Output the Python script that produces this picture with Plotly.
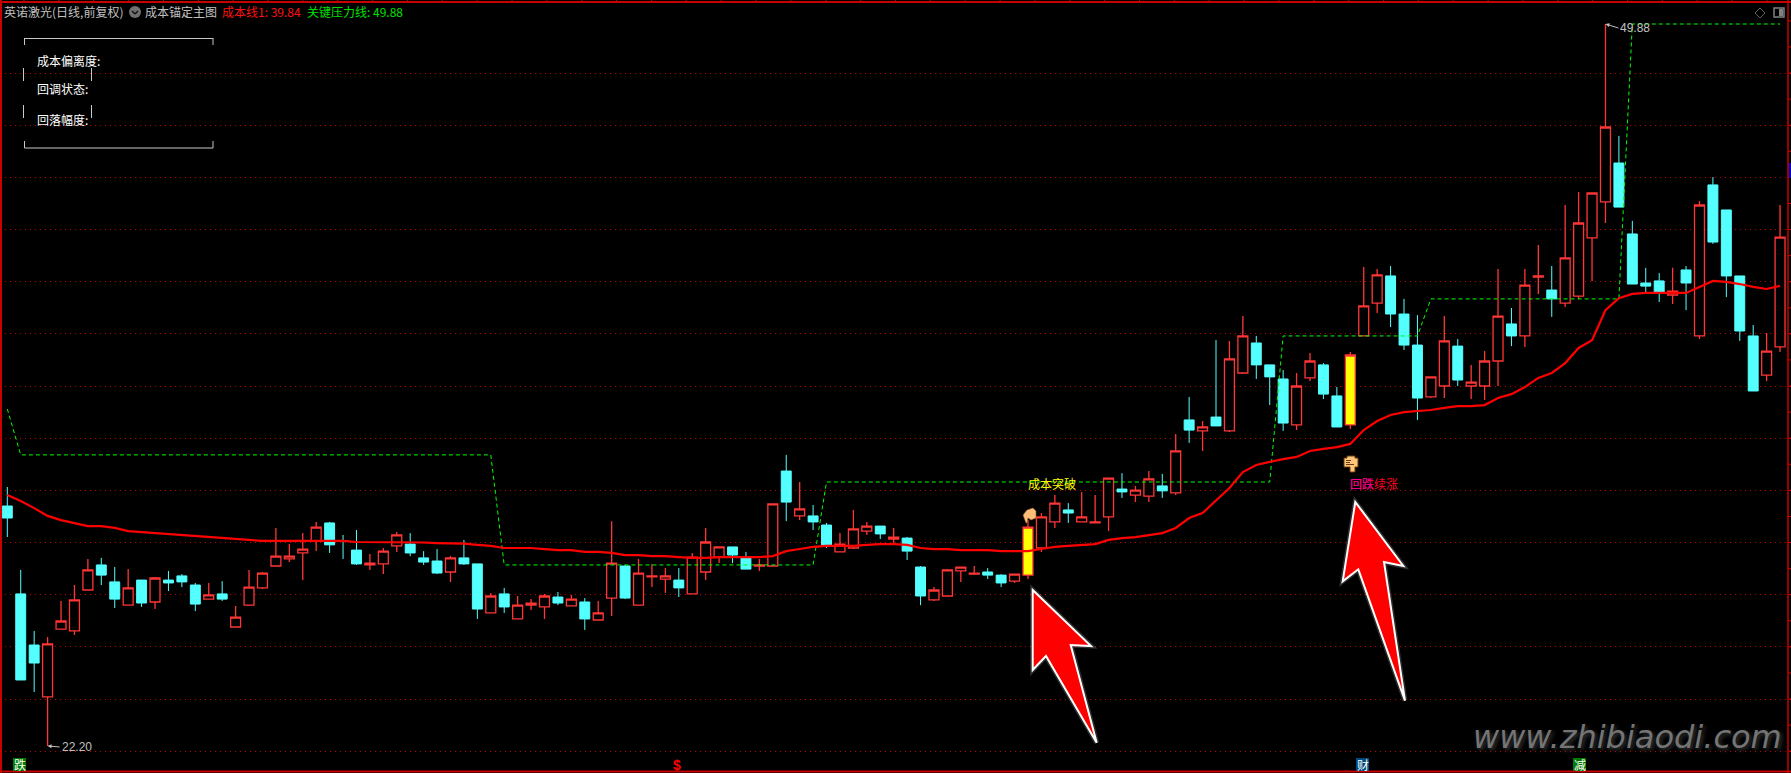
import plotly.graph_objects as go

W, H = 1791, 773
SIGNAL_DAYS = [76, 100]

highs = [
 32.13,28.95,26.61,26.38,27.76,28.37,29.37,29.41,29.06,28.98,
 28.56,28.68,28.91,28.79,28.45,28.45,28.52,27.57,28.95,28.87,
 30.56,29.94,30.36,30.79,30.79,30.29,30.48,29.56,29.79,30.40,
 30.36,29.67,29.75,29.48,30.10,29.18,28.06,28.26,27.95,27.83,
 28.03,28.10,27.99,27.87,27.76,30.82,29.14,29.37,29.18,29.02,
 29.02,29.60,30.56,29.83,29.83,29.64,29.37,31.48,33.36,32.32,
 31.44,30.75,30.36,31.25,30.79,30.63,30.56,30.21,29.10,28.29,
 28.98,29.06,29.10,29.02,28.79,28.79,30.86,31.13,31.82,31.51,
 31.94,31.82,32.47,32.66,32.17,32.74,32.63,34.16,35.58,34.66,
 37.76,37.73,38.68,37.92,36.81,36.61,36.50,37.27,36.88,35.96,
 37.30,40.56,40.49,40.60,39.34,38.72,36.35,38.68,37.80,36.81,
 37.34,40.49,38.99,40.49,41.41,40.60,42.94,43.44,43.40,49.88,
 45.59,42.33,40.53,40.33,40.53,40.60,43.09,44.01,42.75,40.22,
 38.34,38.03,42.94]
opens = [
 31.40,28.03,26.07,24.08,26.68,26.61,28.18,29.14,28.49,27.60,
 28.56,27.72,28.56,28.72,28.37,27.83,28.03,26.76,27.60,28.26,
 29.10,29.37,29.60,30.06,30.75,30.06,29.71,29.14,29.18,29.87,
 29.94,29.41,29.29,28.87,29.41,29.18,27.30,28.03,27.07,27.60,
 27.53,27.91,27.57,27.72,27.03,27.87,29.10,27.60,28.68,28.60,
 28.56,28.03,28.87,29.44,29.83,29.41,29.10,29.10,32.74,31.02,
 31.02,30.67,29.64,29.79,30.44,30.63,30.13,30.17,29.06,27.80,
 27.95,28.91,28.79,28.87,28.75,28.52,28.75,29.79,30.79,31.25,
 30.79,30.75,30.98,32.05,31.82,31.78,32.17,31.90,34.70,34.28,
 34.81,34.28,36.50,37.65,36.81,36.27,34.51,36.31,36.81,35.62,
 34.51,37.92,39.18,40.22,38.76,37.57,35.58,36.00,37.53,36.00,
 36.00,36.96,38.38,37.92,40.18,39.68,39.18,39.45,41.68,43.06,
 44.55,41.83,39.95,40.03,39.49,40.45,37.92,43.71,42.75,40.22,
 37.92,36.42,37.50]
closes = [
 30.94,24.73,25.38,26.11,26.99,27.80,28.95,28.75,27.83,28.26,
 27.68,28.64,28.45,28.49,27.64,27.99,27.83,27.14,28.29,28.83,
 29.48,29.48,29.75,30.59,29.91,30.04,29.18,29.21,29.67,30.29,
 29.60,29.25,28.83,29.41,29.18,27.45,27.95,27.53,27.60,27.68,
 27.95,27.68,27.83,27.07,27.30,29.21,27.87,28.83,28.72,28.72,
 28.26,29.44,30.02,29.83,29.52,28.98,29.14,31.48,31.55,31.29,
 30.79,29.91,29.94,30.52,30.63,30.33,30.21,29.67,27.95,28.18,
 28.95,29.06,28.83,28.75,28.45,28.79,30.59,30.98,31.51,31.13,
 30.98,30.79,32.47,31.94,32.01,32.44,31.98,33.51,34.31,34.43,
 34.47,37.04,37.92,36.81,36.35,34.58,36.00,36.96,35.69,34.43,
 37.19,39.07,40.26,38.76,37.57,35.54,36.35,37.73,36.23,36.15,
 36.96,38.68,37.92,39.87,40.22,39.34,40.91,42.25,43.40,45.93,
 42.86,39.91,39.83,39.57,39.64,39.95,42.94,41.52,40.22,38.11,
 35.81,37.34,41.71]
lows = [
 30.21,24.73,24.27,22.20,26.68,26.45,28.18,28.37,27.49,27.60,
 27.53,27.45,28.14,28.29,27.37,27.83,27.76,26.76,27.60,28.22,
 29.10,29.25,28.56,29.67,29.60,29.37,29.14,28.95,28.79,29.64,
 29.48,29.14,28.79,28.49,29.14,27.07,27.30,27.30,27.07,27.41,
 27.07,27.60,27.57,26.65,27.03,27.18,27.83,27.60,28.29,28.06,
 27.91,28.03,28.56,29.21,29.21,28.98,28.91,29.10,30.82,30.86,
 30.48,29.79,29.64,29.75,30.29,30.13,29.98,29.33,27.60,27.76,
 27.95,28.49,28.75,28.60,28.29,28.45,28.60,29.64,30.56,30.75,
 30.79,30.75,30.44,31.71,31.55,31.55,31.71,31.82,33.82,33.51,
 34.47,34.24,36.46,36.27,35.27,34.28,34.31,36.19,35.50,34.43,
 34.35,37.92,38.80,38.26,37.38,34.70,35.54,35.54,36.00,35.50,
 35.46,36.00,37.53,37.50,39.53,38.65,39.03,39.34,40.03,42.25,
 42.86,39.91,39.57,39.22,39.14,38.91,37.80,41.45,39.41,37.73,
 35.81,36.19,37.30]
cost_line = [
 31.82,31.59,31.32,31.02,30.86,30.75,30.63,30.63,30.56,30.44,
 30.40,30.36,30.33,30.29,30.25,30.21,30.17,30.13,30.10,30.06,
 30.06,30.06,30.06,30.06,30.06,30.06,30.02,30.02,30.02,30.02,
 30.02,30.00,29.98,29.98,29.96,29.91,29.87,29.79,29.79,29.79,
 29.75,29.71,29.71,29.64,29.64,29.60,29.52,29.52,29.48,29.48,
 29.44,29.41,29.41,29.44,29.44,29.44,29.44,29.48,29.67,29.75,
 29.83,29.87,29.87,29.87,29.91,29.94,29.94,29.91,29.79,29.75,
 29.75,29.71,29.71,29.71,29.67,29.67,29.67,29.75,29.83,29.87,
 29.91,29.94,30.10,30.17,30.21,30.29,30.36,30.56,30.94,31.13,
 31.63,32.09,32.70,32.97,33.09,33.20,33.28,33.51,33.59,33.66,
 33.78,34.31,34.66,34.89,35.00,35.04,35.08,35.16,35.23,35.23,
 35.27,35.54,35.69,35.96,36.31,36.50,36.88,37.46,37.76,38.91,
 39.37,39.53,39.57,39.57,39.57,39.57,39.80,40.03,39.99,39.91,
 39.80,39.72,39.84]
pressure_levels = [35.12] + [33.36]*36 + [29.14]*24 + [32.32]*34 + [37.92]*11 + [39.34]*15 + [49.88]*12
grid_prices = list(range(22, 50, 2))
tick_prices = list(range(22, 51))
days = list(range(len(highs)))

X0, STEP = 7.3, 13.43
Y_TOP, Y_SCALE = 50.80, 0.03834
xrange_ = [-X0 / STEP, (W - X0) / STEP]
yrange_ = [Y_TOP - H * Y_SCALE, Y_TOP]
px = lambda x: x / W
py = lambda y: 1 - y / H

RED, CYAN = "#ff3636", "#54ffff"
plain = [d for d in days if d not in SIGNAL_DAYS]
pick = lambda arr, idx: [arr[d] for d in idx]

fig = go.Figure()
fig.add_trace(go.Candlestick(
    x=plain, open=pick(opens, plain), high=pick(highs, plain), low=pick(lows, plain), close=pick(closes, plain),
    whiskerwidth=0, line_width=1.3,
    increasing=dict(line=dict(color=RED, width=1.3), fillcolor="#000000"),
    decreasing=dict(line=dict(color=CYAN, width=1.0), fillcolor=CYAN),
    showlegend=False, hoverinfo="skip"))
fig.add_trace(go.Candlestick(
    x=SIGNAL_DAYS, open=pick(opens, SIGNAL_DAYS), high=pick(highs, SIGNAL_DAYS), low=pick(lows, SIGNAL_DAYS), close=pick(closes, SIGNAL_DAYS),
    whiskerwidth=0,
    increasing=dict(line=dict(color=RED, width=1.3), fillcolor="#ffff00"),
    decreasing=dict(line=dict(color=RED, width=1.3), fillcolor="#ffff00"),
    showlegend=False, hoverinfo="skip"))
fig.add_trace(go.Scatter(x=days, y=pressure_levels, mode="lines", showlegend=False, hoverinfo="skip",
                         line=dict(color="#00ff00", width=1, dash="4px,3px")))
fig.add_trace(go.Scatter(x=days, y=cost_line, mode="lines", showlegend=False, hoverinfo="skip",
                         line=dict(color="#ff0000", width=2.2)))

shapes = []
def paper_line(x0, y0, x1, y1, color, width=1):
    shapes.append(dict(type="line", xref="paper", yref="paper", x0=px(x0), y0=py(y0), x1=px(x1), y1=py(y1),
                       line=dict(color=color, width=width), layer="above"))
def paper_poly(points, fill, line_color=None, width=0, opacity=1):
    path = "M" + " L".join(f"{px(x):.5f},{py(y):.5f}" for x, y in points) + " Z"
    shapes.append(dict(type="path", xref="paper", yref="paper", path=path, fillcolor=fill, opacity=opacity,
                       line=dict(color=line_color or fill, width=width), layer="above"))

# frame
BORDER = "#c80000"
paper_line(0, 2, W, 2, BORDER, 2)
paper_line(1, 0, 1, H, BORDER, 2)
paper_line(0, 771.5, W, 771.5, BORDER, 2)
paper_line(1788, 0, 1788, H, BORDER, 1.5)
tx = 24.0
while tx < 1788:
    paper_line(tx, 0, tx, 2, BORDER, 1)
    tx += 34.86
for p in tick_prices:
    shapes.append(dict(type="line", xref="paper", yref="y", x0=px(1788), x1=px(W), y0=p, y1=p,
                       line=dict(color=BORDER, width=1), layer="above"))
paper_poly([(1789, 163), (1791, 163), (1791, 178), (1789, 178)], "#0000c8")

# info box
BOX = "#c8c8c8"
paper_line(24.5, 38.5, 213, 38.5, BOX)
paper_line(24.5, 38, 24.5, 45, BOX)
paper_line(213, 38, 213, 45, BOX)
paper_line(24.5, 148, 213, 148, BOX)
paper_line(24.5, 141, 24.5, 148, BOX)
paper_line(213, 141, 213, 148, BOX)
for y0, y1 in ((68, 81), (105, 118)):
    paper_line(23.5, y0, 23.5, y1, BOX)
    paper_line(91.5, y0, 91.5, y1, BOX)

# dropdown icon
shapes.append(dict(type="circle", xref="paper", yref="paper", x0=px(129), x1=px(141), y0=py(18), y1=py(6),
                   fillcolor="#707070", line=dict(width=0), layer="above"))
paper_line(132, 11, 135, 14, "#101010", 1.4)
paper_line(135, 14, 138, 11, "#101010", 1.4)

# top-right icons
paper_poly([(1760, 8), (1765, 13), (1760, 18), (1755, 13)], "rgba(0,0,0,0)", "#606060", 1)
paper_poly([(1774, 8), (1784, 8), (1784, 17), (1774, 17)], "rgba(0,0,0,0)", "#808080", 1.5)
paper_poly([(1779, 9), (1783, 9), (1783, 16), (1779, 16)], "#808080")

# signal arrows
arrow_a = [(1032.7, 590), (1091, 646), (1070.7, 645), (1096.7, 742.7), (1046, 656), (1032.7, 670)]
arrow_b = [(1355.3, 502), (1403.3, 566), (1384, 562), (1405, 700.7), (1358.3, 569.3), (1342.7, 581.3)]
for pts in (arrow_a, arrow_b):
    paper_poly(pts, "#ffffff", "#ffffff", 5, 0.18)
    paper_poly(pts, "#ff0000", "#ffffff", 2)

# hand icon
paper_poly([(1023, 515), (1027, 510), (1033, 508), (1036, 511), (1036, 518), (1031, 520), (1028, 518), (1027, 523), (1026, 523)],
           "#ffbe78", "#8a5a2a", 0.6)
# note icon
paper_poly([(1347, 456), (1355, 456), (1355, 458), (1358, 458), (1358, 467), (1355, 467), (1355, 472), (1350, 472), (1350, 467), (1344, 467), (1344, 458), (1347, 458)],
           "#ffc878", "#6a3a10", 1)
for yy, xe in ((460.5, 1351), (462.5, 1350), (464.5, 1354)):
    paper_line(1346, yy, xe, yy, "#6a3a10", 1)

# bottom tags
for x0, x1, c in ((13, 26, "#007a00"), (1356, 1369, "#004a80"), (1573, 1586, "#007a00")):
    paper_poly([(x0, 758), (x1, 758), (x1, 771), (x0, 771)], c)

fig.update_layout(
    width=W, height=H, autosize=False, margin=dict(l=0, r=0, t=0, b=0),
    paper_bgcolor="#000000", plot_bgcolor="#000000", boxgap=0.26, boxgroupgap=0, showlegend=False,
    xaxis=dict(range=xrange_, visible=False, rangeslider=dict(visible=False), fixedrange=True),
    yaxis=dict(range=yrange_, tickmode="array", tickvals=grid_prices, showticklabels=False, ticks="",
               showgrid=True, gridcolor="#c00000", griddash="1px,4px", gridwidth=1, zeroline=False, showline=False, fixedrange=True),
    shapes=shapes,
)

CJK = "Noto Sans CJK SC"
def label(x, y, text, color, size=12, family=CJK, anchor="left", **font_kw):
    fig.add_annotation(xref="paper", yref="paper", x=px(x), y=py(y), text=text, showarrow=False,
                       xanchor=anchor, yanchor="middle", borderpad=0,
                       font=dict(family=family, size=size, color=color, **font_kw))

label(3, 12, "英诺激光(日线,前复权)", "#c0c0c0")
label(144, 12, "成本锚定主图", "#c0c0c0")
label(221, 12, "成本线1: 39.84", "#ff1010")
label(306, 12, "关键压力线: 49.88", "#00e000")
label(36, 60, "成本偏离度:", "#ffffff")
label(36, 89, "回调状态:", "#ffffff")
label(36, 119, "回落幅度:", "#ffffff")
label(1027, 483, "成本突破", "#ffff00")
label(1349, 483, "回跌续涨", "#ff0020")
label(1349, 483, "回踩", "rgba(255,0,255,0.55)")
label(19.5, 764.5, "跌", "#ffffff", 12, anchor="center")
label(677, 765, "$", "#ff0000", 14, "Liberation Sans", anchor="center", weight="bold")
label(1362.5, 764.5, "财", "#ffffff", 12, anchor="center")
label(1579.5, 764.5, "减", "#ffffff", 12, anchor="center")
label(1472, 737, "www.zhibiaodi.com", "#747474", 32, "DejaVu Sans", style="italic", shadow="2px 2px 4px #3a3a3a")

for day, price, ax, ay in ((3, 22.20, 12, 1), (119, 49.88, 13, 4)):
    fig.add_annotation(x=day, y=price, ax=ax, ay=ay, axref="pixel", ayref="pixel", text=f"{price:.2f}",
                       xanchor="left", yanchor="middle", showarrow=True, arrowhead=2, arrowsize=0.8, arrowwidth=1,
                       arrowcolor="#c0c0c0", standoff=0, font=dict(family="Liberation Sans", size=12, color="#c0c0c0"))

fig.write_html("out.html", config=dict(displayModeBar=False),
               post_script="document.body.style.margin='0';document.body.style.background='#000';document.body.style.overflow='hidden';")
